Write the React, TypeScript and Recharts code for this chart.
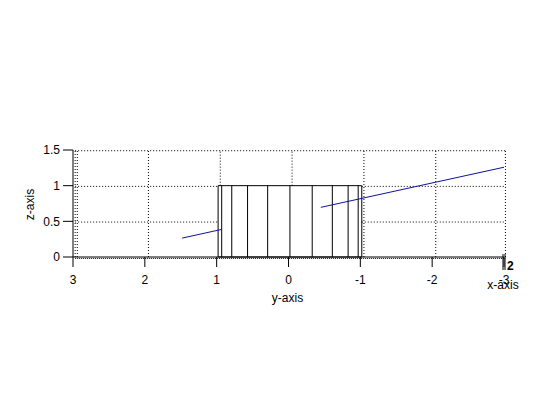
import React from 'react';
import {
  ComposedChart,
  Line,
  XAxis,
  YAxis,
  ReferenceLine,
  ReferenceArea,
  ReferenceDot,
  Label,
} from 'recharts';

// tick labels
const yAxisTicks = [3, 2, 1, 0, -1, -2, -3];
const zAxisTicks = [0, 0.5, 1, 1.5];

// dotted back-plane grid (in y-axis units / z-axis units)
const gridVerticalAt = [2.97, 2.94, 1.95, 0.95, -0.05, -1.05, -2.05, -3.02];
const gridHorizontalAt = [0.49, 0.99, 1.49];
const gridFloorAt = -0.02;
const gridLeft = 2.97;
const gridRight = -3.02;
const gridTop = 1.49;

// the cylinder (seen from the side): outline and facet edges
const cylinderLeft = 0.98;
const cylinderRight = -1.02;
const cylinderHeight = 1.0;
const cylinderFacets = [0.93, 0.79, 0.57, 0.29, -0.02, -0.33, -0.61, -0.83, -0.97];

// blue line (hidden part behind the cylinder left as a gap)
const lineY = [1.48, 0.93, 0.5, -0.45, -3.02];
const lineZ: (number | null)[] = [0.265, 0.387, null, 0.696, 1.263];

const lineData = lineY.map((y, i) => ({ y, z: lineZ[i] }));

const FONT = 'Liberation Sans, Arial, sans-serif';

// grid segments, hidden where the opaque cylinder sits in front of them
type Seg = [{ x: number; y: number }, { x: number; y: number }];
const gridSegments: Seg[] = [];
gridVerticalAt.forEach((v) => {
  const behind = v < cylinderLeft && v > cylinderRight;
  gridSegments.push([
    { x: v, y: behind ? cylinderHeight : 0 },
    { x: v, y: gridTop },
  ]);
});
gridHorizontalAt.forEach((h) => {
  if (h <= cylinderHeight) {
    gridSegments.push([
      { x: gridLeft, y: h },
      { x: cylinderLeft, y: h },
    ]);
    gridSegments.push([
      { x: cylinderRight, y: h },
      { x: gridRight, y: h },
    ]);
  } else {
    gridSegments.push([
      { x: gridLeft, y: h },
      { x: gridRight, y: h },
    ]);
  }
});

const DepthAxis = (props: any) => {
  const { cx, cy } = props;
  return (
    <g>
      <line x1={cx - 1} y1={cy - 3} x2={cx - 1} y2={cy + 13} stroke="#000" strokeWidth={1} />
      <line x1={cx + 1} y1={cy - 3} x2={cx + 1} y2={cy + 13} stroke="#000" strokeWidth={1} />
      <text x={cx + 3} y={cy + 13} fontFamily={FONT} fontSize={12} fontWeight="bold" fill="#000">
        2
      </text>
      <text x={cx - 1} y={cy + 32} fontFamily={FONT} fontSize={12} textAnchor="middle" fill="#000">
        x-axis
      </text>
    </g>
  );
};

export default function App() {
  return (
    <div style={{ position: 'absolute', left: 0, top: 0, width: 560, height: 420, background: '#fff' }}>
      <ComposedChart
        width={560}
        height={420}
        data={lineData}
        margin={{ top: 150, right: 56, bottom: 0, left: 0 }}
      >
        <XAxis
          type="number"
          dataKey="y"
          domain={[-3, 3]}
          reversed
          ticks={yAxisTicks}
          allowDataOverflow
          height={163}
          tickSize={10}
          tickMargin={8}
          stroke="#000"
          tick={{ fill: '#000', fontSize: 12, fontFamily: FONT }}
          axisLine={{ stroke: '#000', strokeWidth: 1 }}
          tickLine={{ stroke: '#000' }}
        >
          <Label
            content={(p: any) => {
              const vb = p.viewBox;
              return (
                <text
                  x={vb.x + vb.width / 2 - 1}
                  y={vb.y + 45}
                  textAnchor="middle"
                  fontFamily={FONT}
                  fontSize={12}
                  fill="#000"
                >
                  y-axis
                </text>
              );
            }}
          />
        </XAxis>
        <YAxis
          type="number"
          dataKey="z"
          domain={[0, 1.5]}
          ticks={zAxisTicks}
          width={73}
          tickSize={10}
          tickMargin={3}
          stroke="#000"
          tick={{ fill: '#000', fontSize: 12, fontFamily: FONT }}
          axisLine={{ stroke: '#000' }}
          tickLine={{ stroke: '#000' }}
        >
          <Label
            content={(p: any) => {
              const vb = p.viewBox;
              const cx = vb.x + 30;
              const cy = vb.y + vb.height / 2 + 1;
              return (
                <text
                  x={cx}
                  y={cy}
                  transform={`rotate(-90 ${cx} ${cy})`}
                  textAnchor="middle"
                  dominantBaseline="central"
                  fontFamily={FONT}
                  fontSize={12}
                  fill="#000"
                >
                  z-axis
                </text>
              );
            }}
          />
        </YAxis>

        {gridSegments.map((s, i) => (
          <ReferenceLine
            key={`g${i}`}
            segment={s}
            stroke="#000"
            strokeDasharray="1 2"
            ifOverflow="visible"
          />
        ))}
        <ReferenceLine
          segment={[
            { x: gridLeft, y: gridFloorAt },
            { x: gridRight, y: gridFloorAt },
          ]}
          stroke="#000"
          strokeDasharray="1 1"
          ifOverflow="visible"
        />

        <ReferenceArea
          x1={cylinderLeft}
          x2={cylinderRight}
          y1={0}
          y2={cylinderHeight}
          fill="#fff"
          fillOpacity={1}
          stroke="#000"
          strokeWidth={1}
          ifOverflow="visible"
        />
        {cylinderFacets.map((v, i) => (
          <ReferenceLine
            key={`cf${i}`}
            segment={[
              { x: v, y: 0 },
              { x: v, y: cylinderHeight },
            ]}
            stroke="#000"
            strokeWidth={1}
            ifOverflow="visible"
          />
        ))}

        <Line
          type="linear"
          dataKey="z"
          stroke="#1010a0"
          strokeWidth={1}
          dot={false}
          activeDot={false}
          connectNulls={false}
          isAnimationActive={false}
        />

        <ReferenceDot x={-3} y={0} r={0} shape={DepthAxis} ifOverflow="visible" />
      </ComposedChart>
    </div>
  );
}
